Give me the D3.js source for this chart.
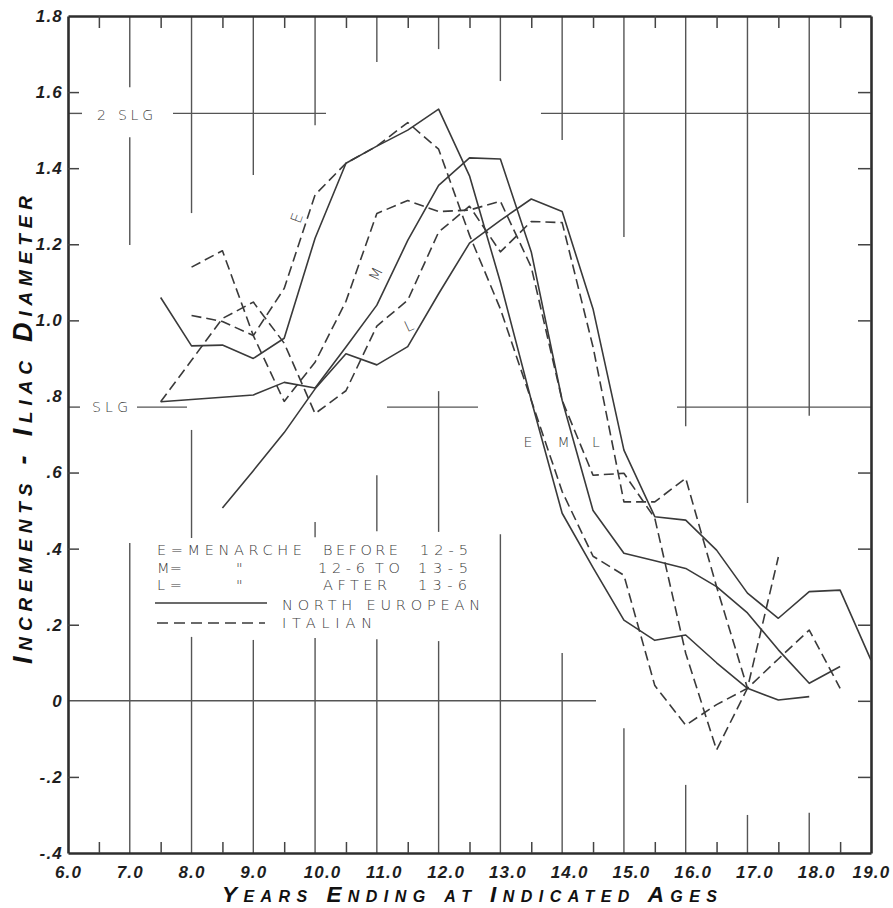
<!DOCTYPE html>
<html><head><meta charset="utf-8">
<script src="https://cdn.jsdelivr.net/npm/d3@7/dist/d3.min.js"></script>
<style>
html,body{margin:0;padding:0;background:#fff;}
svg{display:block;}
</style></head><body>
<svg id="chart" width="893" height="908"></svg>
<script>
// ---------- axis ticks / labels ----------
const xTicks = [6,7,8,9,10,11,12,13,14,15,16,17,18,19];
const xTickLabels = ["6.0","7.0","8.0","9.0","10.0","11.0","12.0","13.0","14.0","15.0","16.0","17.0","18.0","19.0"];
const halfYearTicks = [6.5,7.5,8.5,9.5,10.5,11.5,12.5,13.5,14.5,15.5,16.5,17.5,18.5];
const yTicks = [1.8,1.6,1.4,1.2,1.0,0.8,0.6,0.4,0.2,0,-0.2,-0.4];
const yTickLabels = ["1.8","1.6","1.4","1.2","1.0",".8",".6",".4",".2","0","-.2","-.4"];
const leftInnerTicks = [1.6,1.4,1.2,1.0,0.6,0.4,0.2,-0.2];
const rightInnerTicks = [1.6,1.4,1.2,1.0,0.6,0.4,0.2,0,-0.2];

// ---------- reference levels ----------
const SLG = 0.772;
const SLG2 = 1.544;

// ---------- series: North European (solid) ----------
const agesNorthE = [7.5,8,8.5,9,9.5,10,10.5,11,11.5,12,12.5,13,13.5,14,14.5,15,15.5,16,16.5,17,17.5,18];
const northE     = [1.06,0.933,0.935,0.90,0.953,1.216,1.413,1.458,1.50,1.555,1.38,1.10,0.79,0.493,0.35,0.212,0.159,0.173,0.10,0.033,0.002,0.011];
const agesNorthM = [7.5,8,8.5,9,9.5,10,10.5,11,11.5,12,12.5,13,13.5,14,14.5,15,15.5,16,16.5,17,17.5,18,18.5];
const northM     = [0.786,0.792,0.798,0.804,0.837,0.822,0.93,1.04,1.21,1.355,1.427,1.424,1.18,0.79,0.50,0.388,0.368,0.348,0.30,0.231,0.134,0.046,0.09];
const agesNorthL = [8.5,9,9.5,10,10.5,11,11.5,12,12.5,13,13.5,14,14.5,15,15.5,16,16.5,17,17.5,18,18.5,19];
const northL     = [0.507,0.605,0.705,0.82,0.912,0.883,0.931,1.07,1.203,1.263,1.319,1.286,1.03,0.659,0.484,0.475,0.396,0.283,0.217,0.287,0.291,0.107];

// ---------- series: Italian (dashed) ----------
const agesItalE = [8,8.5,9,9.5,10,10.5,11,11.5,12,12.5,13,13.5,14,14.5,15,15.5,16,16.5,17,17.5,18,18.5];
const italE     = [1.14,1.183,0.96,1.084,1.33,1.413,1.458,1.52,1.45,1.224,1.03,0.79,0.55,0.38,0.33,0.04,-0.064,-0.01,0.033,0.11,0.186,0.033];
const agesItalM = [8,8.5,9,9.5,10,10.5,11,11.5,12,12.5,13,13.5,14,14.5,15,15.5,16,16.5,17,17.5];
const italM     = [1.013,0.997,0.96,0.787,0.89,1.05,1.281,1.315,1.286,1.29,1.313,1.14,0.79,0.593,0.598,0.48,0.125,-0.129,0.033,0.378];
const agesItalL = [7.5,8,8.5,9,9.5,10,10.5,11,11.5,12,12.5,13,13.5,14,14.5,15,15.5,16,16.5,17];
const italL     = [0.786,0.895,1.005,1.048,0.94,0.755,0.815,0.985,1.053,1.232,1.30,1.18,1.26,1.257,0.93,0.523,0.523,0.585,0.30,0.033];

// ---------- partial grid (data units) ----------
const gridVertical = [
 [7,1.8,1.613],[7,1.481,1.198],[7,0.415,-0.4],
 [8,1.8,1.282],[8,0.712,0.428],[8,0.168,-0.4],
 [9,1.8,1.382],[9,0.160,-0.4],
 [10,1.8,1.513],[10,0.47,0.43],[10,0.165,-0.4],
 [11,1.8,1.679],[11,0.593,0.446],[11,0.162,-0.4],
 [12,1.8,1.713],[12,0.814,0.444],[12,0.157,-0.4],
 [13,1.8,1.629],[13,0.438,-0.4],
 [14,1.8,1.474],[14,0.126,-0.4],
 [15,1.8,1.219],[15,-0.072,-0.4],
 [16,1.8,0.722],[16,-0.221,-0.4],
 [17,1.8,0.520],[17,-0.30,-0.4],
 [18,1.8,0.749],[18,-0.294,-0.4]
];
const gridHorizontal = [
 [SLG2,6,6.227],[SLG2,7.70,10.177],[SLG2,13.657,19],
 [SLG,6,6.194],[SLG,7.117,7.927],[SLG,11.164,12.638],[SLG,15.859,19],
 [0,6,14.548]
];

// ================= drawing =================
const svg = d3.select('#chart');
svg.append('rect').attr('width',893).attr('height',908).attr('fill','#fff');
const x = d3.scaleLinear().domain([6,19]).range([68,871]);
const y = d3.scaleLinear().domain([-0.4,1.8]).range([853,16]);
const ink = '#3a3a3a';
const gridInk = '#555';

// grid segments
svg.append('g').selectAll('line').data(gridVertical).join('line')
  .attr('x1',d=>x(d[0])).attr('x2',d=>x(d[0]))
  .attr('y1',d=>y(d[1])).attr('y2',d=>y(d[2]))
  .attr('stroke',gridInk).attr('stroke-width',1.4);
svg.append('g').selectAll('line').data(gridHorizontal).join('line')
  .attr('x1',d=>x(d[1])).attr('x2',d=>x(d[2]))
  .attr('y1',d=>y(d[0])).attr('y2',d=>y(d[0]))
  .attr('stroke',gridInk).attr('stroke-width',1.4);

// axes (frame + inward ticks)
function styleAxis(g){
  g.select('.domain').attr('stroke','#2e2e2e').attr('stroke-width',2.6);
  g.selectAll('.tick line').attr('stroke','#444').attr('stroke-width',1.5);
  g.selectAll('.tick text').remove();
}
svg.append('g').attr('transform',`translate(0,${y(-0.4)})`)
  .call(d3.axisBottom(x).tickValues(halfYearTicks).tickSize(-11).tickSizeOuter(0).tickFormat(''))
  .call(styleAxis);
svg.append('g').attr('transform',`translate(0,${y(1.8)})`)
  .call(d3.axisTop(x).tickValues(halfYearTicks).tickSize(-12).tickSizeOuter(0).tickFormat(''))
  .call(styleAxis);
svg.append('g').attr('transform',`translate(${x(6)},0)`)
  .call(d3.axisLeft(y).tickValues(leftInnerTicks).tickSize(-11).tickSizeOuter(0).tickFormat(''))
  .call(styleAxis);
svg.append('g').attr('transform',`translate(${x(19)},0)`)
  .call(d3.axisRight(y).tickValues(rightInnerTicks).tickSize(-13).tickSizeOuter(0).tickFormat(''))
  .call(styleAxis);

// tick labels via axes
const tickFont = "'Liberation Sans', Arial, sans-serif";
const gxl = svg.append('g').attr('transform',`translate(0,${y(-0.4)})`)
  .call(d3.axisBottom(x).tickValues(xTicks).tickSize(0).tickPadding(13)
        .tickFormat((d,i)=>xTickLabels[i]));
gxl.select('.domain').remove();
gxl.selectAll('text').attr('font-family',tickFont).attr('font-size',17)
  .attr('font-weight','bold').attr('font-style','italic').attr('fill','#1e1e1e')
  .attr('letter-spacing',1.2)
  .attr('dx',d=> (d>=10 && d<19) ? 7 : 0);
const gyl = svg.append('g').attr('transform',`translate(${x(6)},0)`)
  .call(d3.axisLeft(y).tickValues(yTicks).tickSize(0).tickPadding(5)
        .tickFormat((d,i)=>yTickLabels[i]));
gyl.select('.domain').remove();
gyl.selectAll('text').attr('font-family',tickFont).attr('font-size',17)
  .attr('font-weight','bold').attr('font-style','italic').attr('fill','#1e1e1e')
  .attr('letter-spacing',1.2);

// axis titles
svg.append('text')
  .attr('transform',`translate(${x(12.5)},902)`)
  .attr('text-anchor','middle')
  .attr('font-family',tickFont).attr('font-weight','bold').attr('font-style','italic')
  .attr('font-variant','small-caps').attr('font-size',22.5).attr('fill','#111')
  .attr('textLength',495).attr('lengthAdjust','spacing')
  .text('Years Ending at Indicated Ages');
svg.append('text')
  .attr('transform','translate(32,430) rotate(-90)')
  .attr('text-anchor','middle')
  .attr('font-family',tickFont).attr('font-weight','bold').attr('font-style','italic')
  .attr('font-variant','small-caps').attr('font-size',27).attr('fill','#111')
  .attr('textLength',468).attr('lengthAdjust','spacing')
  .text('Increments - Iliac Diameter');

// data lines
const seriesList = [
  {ages:agesNorthE, vals:northE, dash:null},
  {ages:agesNorthM, vals:northM, dash:null},
  {ages:agesNorthL, vals:northL, dash:null},
  {ages:agesItalE, vals:italE, dash:'10,5'},
  {ages:agesItalM, vals:italM, dash:'10,5'},
  {ages:agesItalL, vals:italL, dash:'10,5'}
];
const line = d3.line().x(d=>x(d[0])).y(d=>y(d[1]));
svg.append('g').selectAll('path').data(seriesList).join('path')
  .attr('d',s=>line(s.ages.map((a,i)=>[a,s.vals[i]])))
  .attr('fill','none').attr('stroke',ink).attr('stroke-width',1.6)
  .attr('stroke-linejoin','round')
  .attr('stroke-dasharray',s=>s.dash);

// annotation text
const noteFont = "'DejaVu Sans', 'Noto Sans', sans-serif";
function lab(txt, px, py, o={}){
  const t = svg.append('text').attr('x',px).attr('y',py).text(txt)
    .attr('font-family',noteFont).attr('font-size',o.size||14.5)
    .attr('font-weight',300).attr('fill','#3a3a3a');
  if(o.len) t.attr('textLength',o.len).attr('lengthAdjust','spacing');
  if(o.anchor) t.attr('text-anchor',o.anchor);
  if(o.mid) t.attr('dominant-baseline','central');
  if(o.rot!=null) t.attr('transform',`rotate(${o.rot},${px},${py})`);
  return t;
}
// SLG labels
lab('2 SLG',97,119.5,{len:56,size:14});
lab('SLG',92,412,{len:36,size:14});

// legend
lab('E=MENARCHE',157,555,{len:145});
lab('BEFORE',323,555,{len:75});
lab('12-5',420,555,{len:48});
lab('M=',157,573,{len:25});
lab('"',236,573);
lab('12-6',318,573,{len:47});
lab('TO',375,573,{len:25});
lab('13-5',418,573,{len:50});
lab('L=',157,590,{len:25});
lab('"',236,590);
lab('AFTER',323,590,{len:64});
lab('13-6',418,590,{len:49});
lab('NORTH EUROPEAN',282,610,{len:198});
lab('ITALIAN',282,628,{len:90});
svg.append('line').attr('x1',155).attr('x2',267).attr('y1',603).attr('y2',603)
  .attr('stroke',ink).attr('stroke-width',1.6);
svg.append('line').attr('x1',157).attr('x2',265).attr('y1',623).attr('y2',623)
  .attr('stroke',ink).attr('stroke-width',1.6).attr('stroke-dasharray','11,6');

// curve labels
lab('E',297,218,{anchor:'middle',mid:true,rot:-70,size:15});
lab('M',376,274,{anchor:'middle',mid:true,rot:-65,size:15});
lab('L',409,326,{anchor:'middle',mid:true,rot:-25,size:15});
lab('E',528,442,{anchor:'middle',mid:true,size:14});
lab('M',563.5,442,{anchor:'middle',mid:true,size:14});
lab('L',596,442,{anchor:'middle',mid:true,size:14});
</script>
</body></html>
